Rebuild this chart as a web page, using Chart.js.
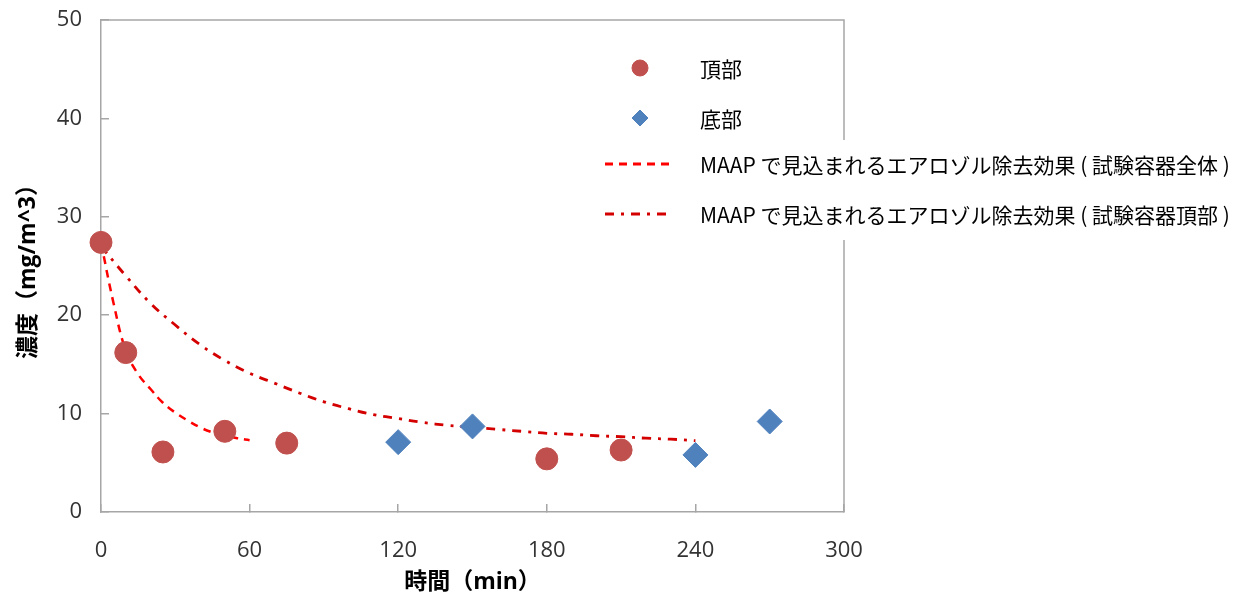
<!DOCTYPE html>
<html lang="ja">
<head>
  <meta charset="UTF-8" />
  <title>エアロゾル濃度の時間変化</title>
  <script src="https://cdn.jsdelivr.net/npm/chart.js@4.4.3/dist/chart.umd.min.js"></script>
  <style>
    body { margin: 0; background: #ffffff; }
    .chart-box { width: 1248px; height: 600px; }
  </style>
</head>
<body>
  <div class="chart-box">
    <canvas id="chartAerosol" width="1248" height="600"></canvas>
  </div>

  <script>
    // 頂部の測定値（時間 min, 濃度 mg/m^3）
    const topTime = [0, 10, 25, 50, 75, 180, 210];
    const topConc = [27.4, 16.2, 6.1, 8.2, 7.0, 5.4, 6.3];

    // 底部の測定値
    const bottomTime = [120, 150, 240, 270];
    const bottomConc = [7.1, 8.7, 5.8, 9.2];

    // MAAP（試験容器全体）
    const wholeTime = [0, 5, 10, 15, 20, 25, 30, 35, 40, 45, 50, 55, 60];
    const wholeConc = [27.4, 21.3, 16.4, 14.0, 12.5, 11.1, 10.1, 9.3, 8.6, 8.1, 7.8, 7.5, 7.3];

    // MAAP（試験容器頂部）
    const headTime = [0, 10, 20, 30, 40, 50, 60, 70, 80, 90, 100, 110, 120,
                      130, 140, 150, 160, 170, 180, 190, 200, 210, 220, 230, 240];
    const headConc = [27.0, 24.0, 21.2, 19.0, 17.0, 15.4, 14.1, 13.1, 12.1, 11.2, 10.5, 9.9, 9.5,
                      9.1, 8.8, 8.6, 8.4, 8.2, 8.0, 7.9, 7.75, 7.65, 7.5, 7.4, 7.25];

    const seriesLabels = [
      '頂部',
      '底部',
      'MAAP で見込まれるエアロゾル除去効果 ( 試験容器全体 )',
      'MAAP で見込まれるエアロゾル除去効果 ( 試験容器頂部 )'
    ];

    const xTicks = [0, 60, 120, 180, 240, 300];
    const yTicks = [0, 10, 20, 30, 40, 50];

    const toPoints = (xs, ys) => xs.map((x, i) => ({ x: x, y: ys[i] }));

    const axisColor = '#a6a6a6';
    const tickFont = { family: "'Open Sans', sans-serif", size: 22 };
    const titleFont = { family: "'Open Sans', 'Noto Sans CJK JP', sans-serif", size: 23, weight: 'bold' };

    // 目盛ラベルのはみ出し分の余白を消して、描画領域を固定する
    const noPad = s => {
      s.paddingTop = 0; s.paddingBottom = 0;
      s.paddingLeft = 0; s.paddingRight = 0;
    };

    // 上と右の枠線
    const frame = {
      id: 'frame',
      beforeDatasetsDraw(chart) {
        const a = chart.chartArea, ctx = chart.ctx;
        ctx.save();
        ctx.strokeStyle = axisColor;
        ctx.lineWidth = 1.5;
        ctx.beginPath();
        ctx.moveTo(a.left, a.top);
        ctx.lineTo(a.right, a.top);
        ctx.lineTo(a.right, a.bottom);
        ctx.stroke();
        ctx.restore();
      }
    };

    // 凡例（グラフ右上に重ねて描く）
    const legendBox = {
      id: 'legendBox',
      afterDraw(chart) {
        const ctx = chart.ctx;
        const rows = [68, 118, 164, 214];
        ctx.save();
        ctx.fillStyle = '#ffffff';
        ctx.fillRect(595, 140, 653, 100);
        chart.data.datasets.forEach((ds, i) => {
          const y = rows[i];
          if (ds.showLine) {
            ctx.strokeStyle = ds.borderColor;
            ctx.lineWidth = 3;
            ctx.setLineDash(ds.borderDash);
            ctx.beginPath();
            ctx.moveTo(605, y);
            ctx.lineTo(670, y);
            ctx.stroke();
            ctx.setLineDash([]);
          } else {
            ctx.fillStyle = ds.backgroundColor;
            ctx.strokeStyle = ds.borderColor;
            Chart.helpers.drawPoint(ctx, { pointStyle: ds.pointStyle, radius: 8, rotation: 0, borderWidth: 1 }, 640, y);
          }
          ctx.fillStyle = '#000000';
          ctx.font = "21px 'Noto Sans CJK JP', sans-serif";
          ctx.textBaseline = 'middle';
          ctx.textAlign = 'left';
          ctx.fillText(ds.label, 700, y + 1, 535);
        });
        ctx.restore();
      }
    };

    new Chart(document.getElementById('chartAerosol'), {
      type: 'scatter',
      data: {
        datasets: [
          {
            label: seriesLabels[0],
            data: toPoints(topTime, topConc),
            pointStyle: 'circle',
            pointRadius: 11,
            backgroundColor: '#c0504d',
            borderColor: '#c0504d',
            clip: false
          },
          {
            label: seriesLabels[1],
            data: toPoints(bottomTime, bottomConc),
            pointStyle: 'rectRot',
            pointRadius: 12.5,
            backgroundColor: '#4f81bd',
            borderColor: '#4f81bd',
            clip: false
          },
          {
            label: seriesLabels[2],
            data: toPoints(wholeTime, wholeConc),
            showLine: true,
            pointRadius: 0,
            borderColor: '#ff0000',
            borderWidth: 2.5,
            borderDash: [8, 6],
            tension: 0.4
          },
          {
            label: seriesLabels[3],
            data: toPoints(headTime, headConc),
            showLine: true,
            pointRadius: 0,
            borderColor: '#d40000',
            borderWidth: 2.8,
            borderDash: [9, 7, 3, 7],
            tension: 0.4
          }
        ]
      },
      options: {
        responsive: false,
        animation: false,
        maintainAspectRatio: false,
        layout: { padding: { left: 0, right: 404, top: 20, bottom: 0 } },
        scales: {
          x: {
            type: 'linear',
            min: 0,
            max: 300,
            afterBuildTicks: s => { s.ticks = xTicks.map(v => ({ value: v })); },
            afterFit: s => { s.height = 88; noPad(s); },
            ticks: { font: tickFont, color: '#333333', padding: 34, maxRotation: 0 },
            grid: { drawOnChartArea: false, tickLength: -8, color: axisColor, lineWidth: 1.5 },
            border: { color: axisColor, width: 1.5 },
            title: { display: true, text: '時間（min）', font: titleFont, color: '#000000', padding: { top: 0, bottom: 4 } }
          },
          y: {
            type: 'linear',
            min: 0,
            max: 50,
            afterBuildTicks: s => { s.ticks = yTicks.map(v => ({ value: v })); },
            afterFit: s => { s.width = 101; noPad(s); },
            ticks: { font: tickFont, color: '#333333', padding: 27 },
            grid: { drawOnChartArea: false, tickLength: -8, color: axisColor, lineWidth: 1.5 },
            border: { color: axisColor, width: 1.5 },
            title: { display: true, text: '濃度（mg/m^3）', font: titleFont, color: '#000000', padding: { top: 15, bottom: 0 } }
          }
        },
        plugins: {
          legend: { display: false },
          tooltip: { enabled: false }
        }
      },
      plugins: [frame, legendBox]
    });
  </script>
</body>
</html>
